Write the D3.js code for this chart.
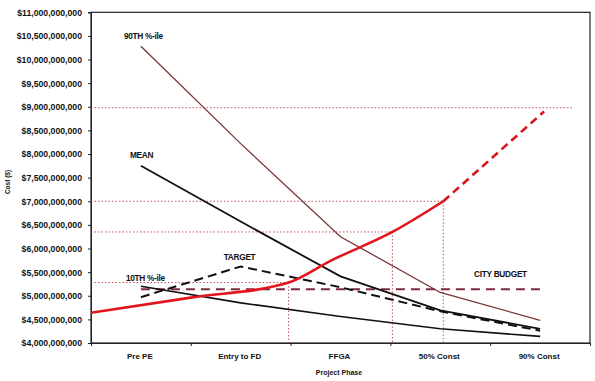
<!DOCTYPE html>
<html><head><meta charset="utf-8">
<script src="https://cdn.jsdelivr.net/npm/d3@7"></script>
<style>
html,body{margin:0;padding:0;background:#fff;}
text{font-family:"Liberation Sans",Arial,sans-serif;}
</style></head>
<body><svg id="c" width="595" height="381"></svg>
<script>
// ---- data ----
const phases = ["Pre PE", "Entry to FD", "FFGA", "50% Const", "90% Const"];
const yTicks = [4e9, 4.5e9, 5e9, 5.5e9, 6e9, 6.5e9, 7e9, 7.5e9, 8e9, 8.5e9, 9e9, 9.5e9, 10e9, 10.5e9, 11e9];
const p90 = [10.28e9, 8.22e9, 6.25e9, 5.07e9, 4.48e9];
const mean = [7.75e9, 6.57e9, 5.41e9, 4.69e9, 4.30e9];
const p10 = [5.20e9, 4.85e9, 4.56e9, 4.30e9, 4.14e9];
const target = [4.97e9, 5.62e9, 5.18e9, 4.67e9, 4.26e9];
const cityBudget = [5.14e9, 5.14e9, 5.14e9, 5.14e9, 5.14e9];
// red cost curve, position along the phase axis (0..5) and value
const redPos = [0, 1.0, 1.98, 2.4, 3.02, 3.53];
const redVal = [4.64e9, 4.96e9, 5.28e9, 5.74e9, 6.35e9, 7.0e9];
const redDashPos = [3.53, 4.54];
const redDashVal = [7.0e9, 8.9e9];
// dotted reference lines
const refVal = [8.98e9, 7.0e9, 6.35e9, 5.28e9];
const refPos = [4.82, 3.53, 3.02, 1.98];
const refVertical = [false, true, true, true];

// ---- chart ----
const svg = d3.select("#c");
const L = 91, R = 590, T = 12.3, B = 343;
const x = d3.scaleLinear().domain([0, 5]).range([L, R]);
const y = d3.scaleLinear().domain([4e9, 11e9]).range([B, T]);
const cx = i => x(i + 0.5);

// frame
svg.append("rect").attr("x", L).attr("y", T).attr("width", R - L).attr("height", B - T)
  .attr("fill", "none").attr("stroke", "#222").attr("stroke-width", 1.2);

// y axis
const fmt = d3.format(",");
const ya = svg.append("g").attr("transform", `translate(${L},0)`)
  .call(d3.axisLeft(y).tickValues(yTicks).tickSize(3).tickFormat(d => "$" + fmt(d)));
ya.select(".domain").attr("stroke", "#222");
ya.selectAll("line").attr("stroke", "#222");
ya.selectAll("text").attr("font-size", "8.7px").attr("font-weight", "bold").attr("fill", "#111").attr("dx", "-3").attr("dy", "0.34em");

// x axis
const xa = svg.append("g").attr("transform", `translate(0,${B})`)
  .call(d3.axisBottom(x).tickValues([1, 2, 3, 4, 5]).tickSize(3).tickFormat(""));
xa.select(".domain").attr("stroke", "#222");
xa.selectAll("line").attr("stroke", "#222");
svg.append("g").selectAll("text").data(phases).join("text")
  .attr("x", (d, i) => cx(i) - 1).attr("y", 359).attr("text-anchor", "middle")
  .attr("font-size", "8px").attr("font-weight", "bold").attr("fill", "#111").text(d => d);

svg.append("text").attr("x", 339).attr("y", 375).attr("text-anchor", "middle")
  .attr("font-size", "7px").attr("font-weight", "bold").attr("fill", "#111").text("Project Phase");
svg.append("text").attr("transform", "translate(10,182) rotate(-90)").attr("text-anchor", "middle")
  .attr("font-size", "6.5px").attr("font-weight", "bold").attr("fill", "#111").text("Cost ($)");

// dotted reference lines
const refColor = "#b5414f";
refVal.forEach((v, i) => {
  svg.append("line").attr("x1", L).attr("x2", x(refPos[i])).attr("y1", y(v)).attr("y2", y(v))
    .attr("stroke", refColor).attr("stroke-width", 0.9).attr("stroke-dasharray", "1.5,2");
  if (refVertical[i]) {
    svg.append("line").attr("x1", x(refPos[i])).attr("x2", x(refPos[i])).attr("y1", y(v)).attr("y2", B)
      .attr("stroke", refColor).attr("stroke-width", 0.9).attr("stroke-dasharray", "1.5,2");
  }
});

const lineCat = d3.line().x((d, i) => cx(i)).y(d => y(d));

// city budget
svg.append("path").attr("d", lineCat(cityBudget)).attr("fill", "none")
  .attr("stroke", "#7d2b3c").attr("stroke-width", 2).attr("stroke-dasharray", "9,6");
// 10th
svg.append("path").attr("d", lineCat(p10)).attr("fill", "none").attr("stroke", "#111").attr("stroke-width", 1.6);
// target
svg.append("path").attr("d", lineCat(target)).attr("fill", "none")
  .attr("stroke", "#111").attr("stroke-width", 2).attr("stroke-dasharray", "9,5");
// mean
svg.append("path").attr("d", lineCat(mean)).attr("fill", "none").attr("stroke", "#111").attr("stroke-width", 1.8);
// 90th
svg.append("path").attr("d", lineCat(p90)).attr("fill", "none").attr("stroke", "#7a3434").attr("stroke-width", 1.3);

// red cost line
const redLine = d3.line().x(d => x(d[0])).y(d => y(d[1])).curve(d3.curveMonotoneX);
svg.append("path").attr("d", redLine(redPos.map((p, i) => [p, redVal[i]]))).attr("fill", "none")
  .attr("stroke", "#e3141c").attr("stroke-width", 2.6);
svg.append("path").attr("d", redLine(redDashPos.map((p, i) => [p, redDashVal[i]]))).attr("fill", "none")
  .attr("stroke", "#d9141c").attr("stroke-width", 2.6).attr("stroke-dasharray", "8,5");

// series labels
const labels = [
  {t: "90TH %-ile", s: p90, i: 0, dx: -17, dy: -7},
  {t: "MEAN", s: mean, i: 0, dx: -11, dy: -8},
  {t: "TARGET", s: target, i: 1, dx: -17, dy: -6},
  {t: "10TH %-ile", s: p10, i: 0, dx: -15, dy: -5},
  {t: "CITY BUDGET", s: cityBudget, i: 4, dx: -66, dy: -12}
];
svg.append("g").selectAll("text").data(labels).join("text")
  .attr("x", d => cx(d.i) + d.dx).attr("y", d => y(d.s[d.i]) + d.dy)
  .attr("font-size", "8.3px").attr("font-weight", "bold").attr("fill", "#111")
  .attr("letter-spacing", "-0.3").text(d => d.t);
</script></body></html>
